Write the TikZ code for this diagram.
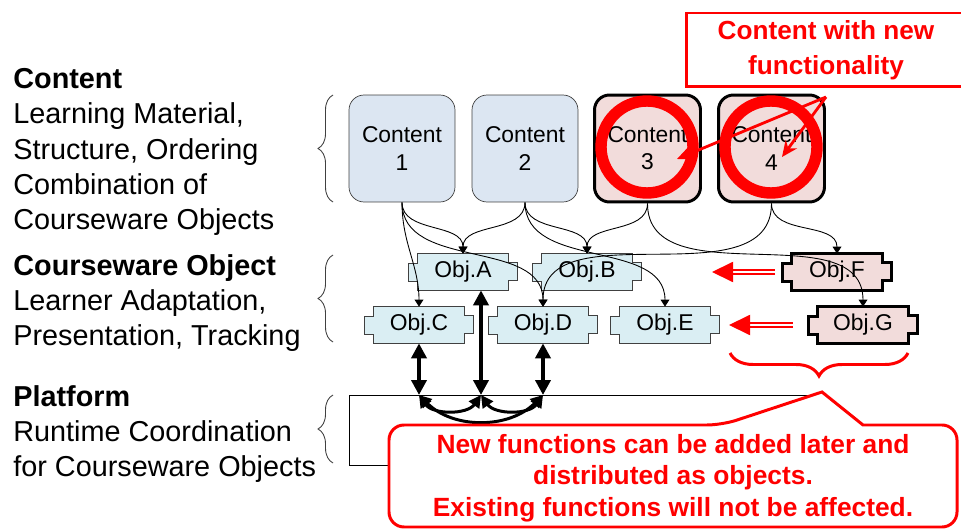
\documentclass[tikz,border=0pt]{standalone}
\usepackage{fontspec}
\setmainfont{Liberation Sans}
\usetikzlibrary{arrows.meta, positioning, calc, decorations.pathreplacing, backgrounds}

\definecolor{contentfill}{RGB}{220,230,242}
\definecolor{objfill}{RGB}{218,238,243}
\definecolor{newfill}{RGB}{242,220,219}
\definecolor{boxline}{RGB}{64,64,64}

\tikzset{
  layertext/.style={align=left, inner sep=0pt, anchor=north west, font=\fontsize{16.4}{20.1}\selectfont},
  layerbrace/.style={decorate, decoration={brace, amplitude=0.3cm}, draw=black!75, line width=0.5pt},
  content/.style={draw=boxline, fill=contentfill, rounded corners=0.3cm, minimum width=2.12cm, minimum height=2.14cm, align=center, inner sep=0pt, font=\fontsize{13}{15.4}\selectfont},
  newcontent/.style={content, draw=black, line width=1.7pt, fill=newfill},
  obj/.style={minimum width=1.8cm, minimum height=0.72cm, inner sep=0pt, font=\fontsize{13}{15}\selectfont},
  objline/.style={draw=boxline, fill=objfill, line width=0.6pt},
  newobjline/.style={draw=black, fill=newfill, line width=1.7pt},
  link/.style={-{Triangle[length=4pt,width=5pt]}, line width=0.5pt},
  busarrow/.style={{Triangle[length=8.5pt,width=8.5pt]}-{Triangle[length=8.5pt,width=8.5pt]}, line width=2.2pt},
  busarc/.style={{Triangle[length=7pt,width=7pt]}-{Triangle[length=7pt,width=7pt]}, line width=1.7pt},
  ring/.style={draw=red, line width=6.5pt},
  redtext/.style={text=red, font=\bfseries\fontsize{14.9}{19.9}\selectfont, align=center},
  noteline/.style={draw=red, line width=1.7pt},
  notearrow/.style={red, line width=1.6pt, -{Stealth[length=9pt,width=8pt]}},
  movearrow/.style={draw=red, double=white, double distance=1.5pt, line width=0.8pt, -{Triangle[length=12pt,width=11.5pt,fill=red]}},
}

\begin{document}
\begin{tikzpicture}[x=0.02cm, y=-0.02cm]
  \clip (0,0) rectangle (961,530);

  % layer descriptions
  \node[layertext] (contentLayer) at (13,68) {\textbf{Content}\\Learning Material,\\Structure, Ordering\\Combination of\\Courseware Objects};
  \node[layertext] (objectLayer) at (13,254) {\textbf{Courseware Object}\\Learner Adaptation,\\Presentation, Tracking};
  \node[layertext] (platformLayer) at (13,385) {\textbf{Platform}\\Runtime Coordination\\for Courseware Objects};

  \draw[layerbrace] (333,202) -- (333,95);
  \draw[layerbrace] (333,342) -- (333,255);
  \draw[layerbrace] (333,463) -- (333,395);

  % platform
  \node[draw, line width=0.6pt, minimum width=9.42cm, minimum height=1.4cm, anchor=north west, inner sep=0pt] (platform) at (349,395) {};

  % content
  \node[content] (c1) at (402,148.5) {Content\\1};
  \node[content] (c2) at (525,148.5) {Content\\2};
  \node[newcontent] (c3) at (647.5,148.5) {Content\\3};
  \node[newcontent] (c4) at (771.5,148.5) {Content\\4};

  % courseware objects
  \node[obj] (objA) at (463,272) {Obj.A};
  \node[obj] (objB) at (587,272) {Obj.B};
  \node[obj] (objC) at (419,325) {Obj.C};
  \node[obj] (objD) at (543,325) {Obj.D};
  \node[obj] (objE) at (665,325) {Obj.E};
  \node[obj] (objF) at (837,272) {Obj.F};
  \node[obj] (objG) at (863,325) {Obj.G};

  \begin{scope}[on background layer]
    \foreach \n in {objA,objB,objC,objD,objE}
      \draw[objline] (\n.north west) -- (\n.north east) -- ++(0,9) -- ++(9,0) -- ++(0,18) -- ++(-9,0)
        -- (\n.south east) -- (\n.south west) -- ++(0,-9) -- ++(-9,0) -- ++(0,-18) -- ++(9,0) -- cycle;
    \foreach \n in {objF,objG}
      \draw[newobjline] (\n.north west) -- (\n.north east) -- ++(0,9) -- ++(9,0) -- ++(0,18) -- ++(-9,0)
        -- (\n.south east) -- (\n.south west) -- ++(0,-9) -- ++(-9,0) -- ++(0,-18) -- ++(9,0) -- cycle;
  \end{scope}

  % links content -> objects
  \draw[link] (c1.south) to[out=-90,in=90] (objC.north);
  \draw[link] (c1.south) to[out=-90,in=90] (objA.north);
  \draw[link] (c1.south) to[out=-90,in=90] (objD.north);
  \draw[link] (c2.south) to[out=-90,in=90] (objA.north);
  \draw[link] (c2.south) to[out=-90,in=90] (objB.north);
  \draw[link] (c2.south) to[out=-90,in=90] (objE.north);
  \draw[link] (c3.south) to[out=-90,in=90] (objB.north);
  \draw[link] (c3.south) to[out=-90,in=90] (objG.north);
  \draw[link] (c4.south) to[out=-90,in=90] (objF.north);
  \draw[link] (c4.south) to[out=-90,in=90] (objD.north);

  % platform connections
  \coordinate (busC) at (objC.south |- platform.north);
  \coordinate (busA) at (481,395);
  \coordinate (busD) at (objD.south |- platform.north);
  \draw[busarrow] (objC.south) -- (busC);
  \draw[busarrow] (busA |- objA.south) -- (busA);
  \draw[busarrow] (objD.south) -- (busD);
  \draw[busarc] (busC) to[out=-55,in=-125] (busA);
  \draw[busarc] (busA) to[out=-55,in=-125] (busD);
  \draw[busarc] (busC) to[out=-45,in=-135] (busD);

  % new functionality
  \draw[ring] (647,147) circle (46);
  \draw[ring] (771,147) circle (46);

  \coordinate (fTail) at (775,272);
  \coordinate (fTip) at (712,272);
  \coordinate (gTail) at (793,325);
  \coordinate (gTip) at (729,325);
  \draw[movearrow] (fTail) -- (fTip);
  \draw[movearrow] (gTail) -- (gTip);

  \draw[decorate, decoration={brace, amplitude=0.46cm}, red, line width=1.7pt] (908,353) -- (730,353);

  % notes
  \node[noteline, redtext, minimum width=5.6cm, minimum height=1.48cm] (newfunc) at (826,50) {Content with new\\functionality};
  \coordinate (noteRoot) at (826,97);
  \coordinate (ring3) at (677,159);
  \coordinate (ring4) at (782,157);
  \draw[notearrow] (noteRoot) -- (ring3);
  \draw[notearrow] (noteRoot) -- (ring4);

  \coordinate (noteTip) at (822,392);
  \draw[noteline, fill=white, rounded corners=0.3cm] (863,425) -- (957,425) -- (957,527) -- (389,527) -- (389,425) -- (722,425) [sharp corners] -- (noteTip) -- cycle;
  \node[redtext, font=\bfseries\fontsize{15}{17.9}\selectfont] (addnote) at (673,478) {New functions can be added later and\\distributed as objects.\\Existing functions will not be affected.};
\end{tikzpicture}
\end{document}
